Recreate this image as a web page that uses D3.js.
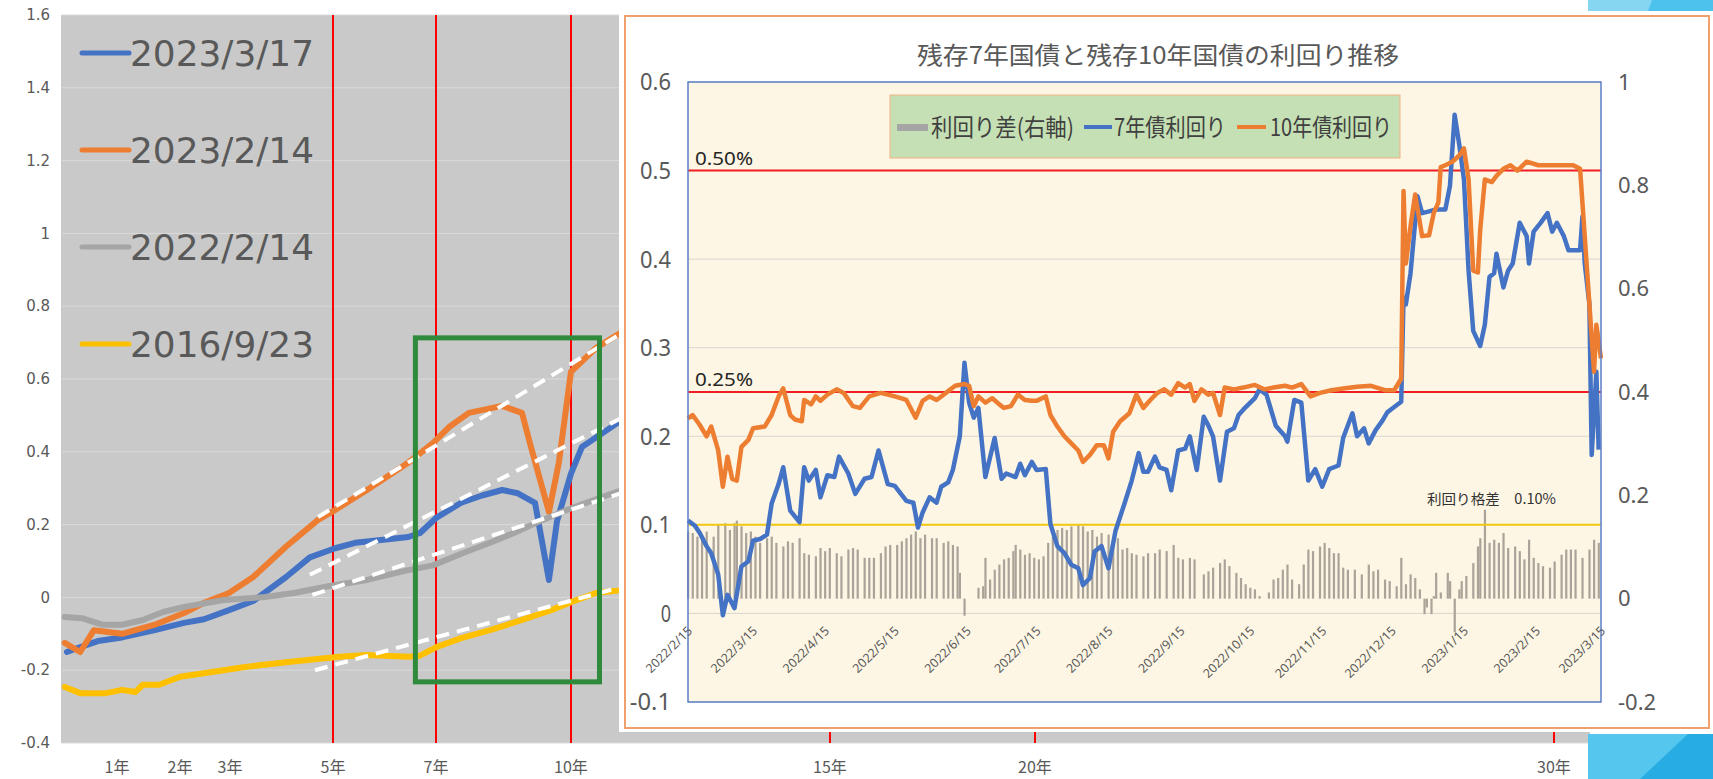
<!DOCTYPE html>
<meta charset="utf-8">
<style>
  body { margin: 0; background: #fff; }
  svg text { font-family: "Noto Sans CJK JP", "Noto Sans", sans-serif; }
</style>
<body>
<script src="https://d3js.org/d3.v7.min.js"></script>
<script>
// ---------- left chart : yield curves (maturity in years, yield %) ----------
var curveNames  = ["2023/3/17", "2023/2/14", "2022/2/14", "2016/9/23"];
var curveColors = ["#4472c4", "#ed7d31", "#a5a5a5", "#ffc000"];
var curve20230317 = [[0.09,-0.15],[0.36,-0.135],[0.65,-0.12],[1.08,-0.11],[1.6,-0.09],[2.08,-0.07],[2.48,-0.06],[2.98,-0.035],[3.45,-0.01],[4.09,0.056],[4.55,0.11],[5.04,0.135],[5.43,0.15],[6.07,0.16],[6.46,0.166],[6.69,0.177],[7.02,0.22],[7.56,0.26],[8.02,0.28],[8.47,0.295],[8.82,0.286],[9.2,0.26],[9.51,0.048],[9.69,0.21],[10,0.34],[10.21,0.413],[10.98,0.487],[11.6,0.53]];
var curve20230214 = [[0.05,-0.125],[0.33,-0.15],[0.58,-0.09],[1.08,-0.10],[1.6,-0.075],[2.08,-0.043],[2.48,-0.015],[2.98,0.012],[3.45,0.056],[4.09,0.14],[4.71,0.213],[5.04,0.24],[5.66,0.295],[6.46,0.37],[6.94,0.424],[7.29,0.468],[7.73,0.507],[8.47,0.526],[8.91,0.507],[9.11,0.413],[9.51,0.235],[9.73,0.37],[10,0.62],[10.48,0.685],[10.95,0.726],[11.6,0.8]];
var curve20220214 = [[0.05,-0.054],[0.36,-0.057],[0.73,-0.075],[1.08,-0.075],[1.41,-0.062],[1.73,-0.04],[2.08,-0.026],[2.88,-0.007],[3.68,0.001],[4.24,0.012],[4.88,0.03],[5.66,0.048],[6.46,0.075],[6.94,0.088],[7.56,0.12],[8.2,0.15],[8.73,0.177],[9.38,0.213],[10,0.245],[10.98,0.295],[11.6,0.33]];
var curve20160923 = [[0.05,-0.246],[0.33,-0.263],[0.8,-0.263],[1.08,-0.254],[1.29,-0.26],[1.41,-0.24],[1.67,-0.24],[2.0,-0.218],[2.64,-0.205],[3.29,-0.191],[4.09,-0.178],[4.55,-0.171],[5.12,-0.163],[5.66,-0.158],[6.46,-0.163],[6.69,-0.16],[7.02,-0.136],[7.56,-0.112],[8.2,-0.09],[8.91,-0.062],[9.56,-0.035],[10,-0.013],[10.48,0.012],[10.98,0.02],[11.6,0.035]];
var curves = [curve20230317, curve20230214, curve20220214, curve20160923];

var maturityTicks  = [1, 2, 3, 5, 7, 10, 15, 20, 30];
var maturityLabels = ["1年", "2年", "3年", "5年", "7年", "10年", "15年", "20年", "30年"];
var markedMaturities = [5, 7, 10, 15, 20, 30];   // red vertical lines
var leftYTicks = [1.6, 1.4, 1.2, 1, 0.8, 0.6, 0.4, 0.2, 0, -0.2, -0.4];

// white dashed guide lines [[years, yield], [years, yield]]
var guideLines = [
  [[4.71, 0.221], [10.98, 0.726]],
  [[4.55, 0.062], [10.98, 0.493]],
  [[4.6, 0.007], [10.98, 0.287]],
  [[4.65, -0.2], [10.98, 0.029]]
];
// green highlight box: [fromYear, toYear, lowYield, highYield]
var highlightBox = [6.6, 10.55, -0.232, 0.713];

// ---------- inset chart : 7y / 10y JGB yields ----------
var inTitle = "残存7年国債と残存10年国債の利回り推移";
var dates10y = ["2022-02-15","2022-02-17","2022-02-20","2022-02-23","2022-02-25","2022-02-28","2022-03-02","2022-03-04","2022-03-06","2022-03-08","2022-03-10","2022-03-13","2022-03-15","2022-03-20","2022-03-23","2022-03-26","2022-03-28","2022-03-31","2022-04-02","2022-04-05","2022-04-06","2022-04-09","2022-04-11","2022-04-13","2022-04-16","2022-04-20","2022-04-23","2022-04-27","2022-04-30","2022-05-04","2022-05-09","2022-05-15","2022-05-20","2022-05-24","2022-05-27","2022-05-30","2022-06-02","2022-06-04","2022-06-07","2022-06-10","2022-06-14","2022-06-16","2022-06-18","2022-06-20","2022-06-23","2022-06-26","2022-06-29","2022-07-01","2022-07-04","2022-07-07","2022-07-10","2022-07-13","2022-07-15","2022-07-19","2022-07-21","2022-07-24","2022-07-27","2022-07-30","2022-08-02","2022-08-04","2022-08-07","2022-08-10","2022-08-13","2022-08-15","2022-08-17","2022-08-20","2022-08-24","2022-08-27","2022-08-30","2022-09-02","2022-09-05","2022-09-08","2022-09-11","2022-09-14","2022-09-17","2022-09-19","2022-09-21","2022-09-24","2022-09-27","2022-09-29","2022-10-02","2022-10-04","2022-10-08","2022-10-12","2022-10-17","2022-10-21","2022-10-25","2022-10-30","2022-11-02","2022-11-06","2022-11-10","2022-11-14","2022-11-19","2022-11-24","2022-11-30","2022-12-06","2022-12-12","2022-12-16","2022-12-19","2022-12-20","2022-12-21","2022-12-23","2022-12-25","2022-12-28","2022-12-31","2023-01-02","2023-01-04","2023-01-05","2023-01-07","2023-01-10","2023-01-13","2023-01-15","2023-01-17","2023-01-19","2023-01-21","2023-01-22","2023-01-24","2023-01-27","2023-01-29","2023-02-01","2023-02-04","2023-02-07","2023-02-11","2023-02-16","2023-02-21","2023-02-27","2023-03-03","2023-03-06","2023-03-08","2023-03-11","2023-03-12","2023-03-13","2023-03-15"];
var yield10y = [0.22,0.224,0.213,0.2,0.211,0.184,0.143,0.177,0.152,0.15,0.188,0.196,0.209,0.211,0.224,0.245,0.254,0.224,0.219,0.217,0.241,0.236,0.245,0.24,0.247,0.253,0.249,0.234,0.232,0.245,0.249,0.245,0.241,0.221,0.24,0.245,0.241,0.245,0.251,0.257,0.259,0.257,0.234,0.245,0.238,0.243,0.236,0.232,0.234,0.247,0.241,0.24,0.24,0.245,0.224,0.211,0.2,0.192,0.184,0.171,0.179,0.19,0.19,0.175,0.205,0.217,0.226,0.247,0.232,0.241,0.249,0.253,0.247,0.26,0.255,0.259,0.24,0.253,0.247,0.249,0.224,0.255,0.253,0.255,0.258,0.253,0.255,0.257,0.255,0.259,0.245,0.249,0.252,0.254,0.256,0.257,0.252,0.252,0.265,0.477,0.395,0.437,0.473,0.426,0.427,0.452,0.464,0.504,0.506,0.51,0.517,0.525,0.49,0.387,0.385,0.433,0.49,0.487,0.494,0.502,0.506,0.5,0.51,0.506,0.506,0.506,0.506,0.502,0.426,0.311,0.273,0.326,0.288];

var dates7y = ["2022-02-15","2022-02-18","2022-02-20","2022-02-23","2022-02-25","2022-02-28","2022-03-02","2022-03-04","2022-03-07","2022-03-10","2022-03-13","2022-03-15","2022-03-18","2022-03-21","2022-03-23","2022-03-26","2022-03-28","2022-03-31","2022-04-04","2022-04-06","2022-04-08","2022-04-11","2022-04-13","2022-04-16","2022-04-19","2022-04-21","2022-04-25","2022-04-28","2022-05-02","2022-05-05","2022-05-08","2022-05-12","2022-05-15","2022-05-20","2022-05-23","2022-05-25","2022-05-27","2022-05-30","2022-06-02","2022-06-04","2022-06-07","2022-06-09","2022-06-12","2022-06-14","2022-06-16","2022-06-18","2022-06-20","2022-06-23","2022-06-27","2022-06-30","2022-07-02","2022-07-06","2022-07-08","2022-07-10","2022-07-13","2022-07-15","2022-07-19","2022-07-21","2022-07-24","2022-07-27","2022-07-30","2022-08-02","2022-08-04","2022-08-07","2022-08-09","2022-08-12","2022-08-15","2022-08-18","2022-08-22","2022-08-25","2022-08-28","2022-08-30","2022-09-01","2022-09-04","2022-09-06","2022-09-09","2022-09-11","2022-09-14","2022-09-17","2022-09-19","2022-09-22","2022-09-25","2022-09-27","2022-09-29","2022-10-02","2022-10-05","2022-10-08","2022-10-10","2022-10-12","2022-10-17","2022-10-19","2022-10-22","2022-10-26","2022-10-30","2022-10-31","2022-11-03","2022-11-06","2022-11-09","2022-11-12","2022-11-15","2022-11-18","2022-11-22","2022-11-24","2022-11-28","2022-11-30","2022-12-03","2022-12-05","2022-12-08","2022-12-11","2022-12-13","2022-12-15","2022-12-19","2022-12-20","2022-12-21","2022-12-23","2022-12-26","2022-12-28","2022-12-31","2023-01-03","2023-01-05","2023-01-07","2023-01-09","2023-01-11","2023-01-13","2023-01-15","2023-01-17","2023-01-19","2023-01-22","2023-01-24","2023-01-26","2023-01-28","2023-01-29","2023-02-01","2023-02-03","2023-02-05","2023-02-08","2023-02-11","2023-02-12","2023-02-14","2023-02-17","2023-02-20","2023-02-22","2023-02-24","2023-02-27","2023-03-01","2023-03-04","2023-03-06","2023-03-07","2023-03-08","2023-03-10","2023-03-11","2023-03-13","2023-03-14"];
var yield7y = [0.105,0.099,0.091,0.076,0.068,0.044,-0.002,0.021,0.006,0.053,0.059,0.082,0.084,0.089,0.124,0.146,0.165,0.116,0.103,0.165,0.15,0.162,0.131,0.156,0.154,0.177,0.158,0.135,0.152,0.154,0.184,0.146,0.144,0.127,0.125,0.097,0.114,0.131,0.125,0.143,0.148,0.162,0.2,0.283,0.238,0.221,0.232,0.154,0.198,0.152,0.158,0.154,0.169,0.156,0.171,0.162,0.163,0.101,0.076,0.068,0.055,0.051,0.032,0.04,0.07,0.076,0.051,0.093,0.125,0.15,0.181,0.16,0.16,0.177,0.165,0.162,0.139,0.184,0.186,0.2,0.162,0.222,0.212,0.2,0.15,0.205,0.209,0.224,0.23,0.243,0.253,0.247,0.212,0.2,0.194,0.241,0.238,0.15,0.163,0.143,0.163,0.167,0.198,0.226,0.2,0.209,0.192,0.207,0.218,0.227,0.231,0.239,0.357,0.349,0.384,0.471,0.452,0.454,0.456,0.456,0.456,0.483,0.563,0.529,0.49,0.387,0.319,0.302,0.326,0.38,0.384,0.406,0.368,0.387,0.395,0.441,0.426,0.395,0.431,0.441,0.452,0.431,0.441,0.426,0.41,0.41,0.41,0.448,0.395,0.349,0.179,0.273,0.185];

var spreadDates = ["2022-02-15","2022-02-17","2022-02-19","2022-02-21","2022-02-23","2022-02-26","2022-02-28","2022-03-03","2022-03-05","2022-03-07","2022-03-08","2022-03-10","2022-03-12","2022-03-14","2022-03-16","2022-03-18","2022-03-21","2022-03-23","2022-03-25","2022-03-28","2022-03-30","2022-04-01","2022-04-04","2022-04-06","2022-04-08","2022-04-11","2022-04-13","2022-04-15","2022-04-17","2022-04-20","2022-04-22","2022-04-25","2022-04-27","2022-04-29","2022-05-02","2022-05-04","2022-05-06","2022-05-09","2022-05-11","2022-05-13","2022-05-16","2022-05-18","2022-05-20","2022-05-22","2022-05-24","2022-05-26","2022-05-28","2022-05-31","2022-06-02","2022-06-05","2022-06-07","2022-06-09","2022-06-11","2022-06-12","2022-06-14","2022-06-20","2022-06-22","2022-06-23","2022-06-25","2022-06-27","2022-06-29","2022-07-01","2022-07-03","2022-07-05","2022-07-06","2022-07-08","2022-07-10","2022-07-12","2022-07-14","2022-07-16","2022-07-18","2022-07-20","2022-07-22","2022-07-24","2022-07-26","2022-07-28","2022-07-30","2022-08-02","2022-08-04","2022-08-06","2022-08-08","2022-08-10","2022-08-12","2022-08-15","2022-08-17","2022-08-19","2022-08-21","2022-08-23","2022-08-25","2022-08-27","2022-08-30","2022-09-01","2022-09-04","2022-09-06","2022-09-09","2022-09-12","2022-09-14","2022-09-16","2022-09-19","2022-09-21","2022-09-25","2022-09-27","2022-09-29","2022-10-02","2022-10-04","2022-10-06","2022-10-09","2022-10-11","2022-10-13","2022-10-15","2022-10-17","2022-10-19","2022-10-23","2022-10-25","2022-10-27","2022-10-29","2022-10-31","2022-11-02","2022-11-05","2022-11-07","2022-11-09","2022-11-11","2022-11-14","2022-11-16","2022-11-18","2022-11-20","2022-11-22","2022-11-24","2022-11-26","2022-11-29","2022-12-02","2022-12-05","2022-12-07","2022-12-09","2022-12-12","2022-12-14","2022-12-17","2022-12-19","2022-12-21","2022-12-23","2022-12-25","2022-12-27","2022-12-29","2022-12-30","2023-01-01","2023-01-02","2023-01-03","2023-01-05","2023-01-08","2023-01-09","2023-01-11","2023-01-13","2023-01-14","2023-01-16","2023-01-19","2023-01-21","2023-01-22","2023-01-24","2023-01-26","2023-01-28","2023-01-30","2023-02-01","2023-02-03","2023-02-06","2023-02-08","2023-02-10","2023-02-12","2023-02-14","2023-02-16","2023-02-18","2023-02-21","2023-02-23","2023-02-26","2023-02-28","2023-03-02","2023-03-04","2023-03-07","2023-03-10","2023-03-12","2023-03-14"];
var spreadValues = [0.13,0.127,0.12,0.114,0.13,0.12,0.143,0.146,0.133,0.146,0.151,0.14,0.127,0.13,0.12,0.108,0.117,0.12,0.108,0.101,0.111,0.108,0.117,0.088,0.085,0.082,0.098,0.092,0.098,0.088,0.082,0.095,0.098,0.095,0.079,0.079,0.079,0.088,0.101,0.104,0.104,0.111,0.117,0.124,0.13,0.117,0.124,0.117,0.117,0.108,0.111,0.104,0.101,0.05,-0.033,0.021,0.024,0.079,0.037,0.056,0.066,0.076,0.079,0.092,0.104,0.095,0.085,0.088,0.079,0.076,0.082,0.108,0.12,0.133,0.137,0.133,0.14,0.143,0.14,0.13,0.133,0.12,0.127,0.124,0.114,0.117,0.095,0.098,0.088,0.085,0.082,0.088,0.088,0.095,0.092,0.104,0.079,0.076,0.079,0.076,0.047,0.053,0.06,0.069,0.076,0.063,0.05,0.04,0.028,0.021,0.018,0.005,0.012,0.037,0.04,0.056,0.066,0.037,0.028,0.066,0.095,0.092,0.101,0.108,0.098,0.088,0.088,0.06,0.056,0.056,0.047,0.066,0.053,0.056,0.037,0.034,0.024,0.079,0.028,0.047,0.04,0.018,-0.03,-0.017,-0.03,0.005,0.05,0.012,0.05,0.034,-0.065,0.018,0.034,0.044,0.069,0.101,0.117,0.172,0.108,0.114,0.108,0.127,0.098,0.101,0.092,0.076,0.114,0.079,0.069,0.063,0.06,0.072,0.085,0.095,0.095,0.095,0.079,0.095,0.114,0.108];

var inSeriesNames = ["利回り差(右軸)", "7年債利回り", "10年債利回り"];
var inLeftTicks  = [0.6, 0.5, 0.4, 0.3, 0.2, 0.1, 0, -0.1];
var inRightTicks = [1, 0.8, 0.6, 0.4, 0.2, 0, -0.2];
var inDateTicks = ["2022-02-15","2022-03-15","2022-04-15","2022-05-15","2022-06-15","2022-07-15","2022-08-15","2022-09-15","2022-10-15","2022-11-15","2022-12-15","2023-01-15","2023-02-15","2023-03-15"];
var refLevels = [0.5, 0.25];          // red reference lines (left axis)
var refLabels = ["0.50%", "0.25%"];
var spreadRef = 0.1;                  // yellow line (left axis)
var spreadRefLabel = "利回り格差　0.10%";

// ================= drawing =================
var W = 1713, H = 779;
var svg = d3.select("body").append("svg").attr("width", W).attr("height", H);
var parse = d3.timeParse("%Y-%m-%d");

// ---- left chart scales
var xL = d3.scaleLinear()
    .domain([0, 1, 2, 3, 5, 7, 10, 15, 20, 30, 30.7])
    .range([62, 117, 180, 230, 333, 436, 571, 830, 1035, 1554, 1590]);
var yL = d3.scaleLinear().domain([-0.4, 1.6]).range([743, 15]);

var left = svg.append("g");
left.append("rect")
    .attr("x", xL(0) - 1).attr("y", yL(1.6))
    .attr("width", xL(30.7) - xL(0) + 1).attr("height", yL(-0.4) - yL(1.6))
    .attr("fill", "#c9c9c9");

left.selectAll(".grid").data(leftYTicks).enter().append("line")
    .attr("x1", xL(0)).attr("x2", xL(30.7))
    .attr("y1", function(d) { return yL(d); }).attr("y2", function(d) { return yL(d); })
    .attr("stroke", "#dadada").attr("stroke-width", 1);

left.selectAll(".ylab").data(leftYTicks).enter().append("text")
    .attr("x", 50).attr("y", function(d) { return yL(d); })
    .attr("dy", "0.35em").attr("text-anchor", "end")
    .style("font-family", "'DejaVu Sans', sans-serif").style("font-size", "15px")
    .attr("fill", "#595959")
    .text(function(d) { return String(d); });

left.selectAll(".xlab").data(maturityTicks).enter().append("text")
    .attr("x", function(d) { return xL(d); }).attr("y", 773)
    .attr("text-anchor", "middle").style("font-size", "16px").attr("fill", "#595959")
    .text(function(d, i) { return maturityLabels[i]; });

left.selectAll(".mark").data(markedMaturities).enter().append("line")
    .attr("x1", function(d) { return xL(d); }).attr("x2", function(d) { return xL(d); })
    .attr("y1", yL(1.6)).attr("y2", yL(-0.4))
    .attr("stroke", "#ff0000").attr("stroke-width", 2);

var lineL = d3.line().x(function(d) { return xL(d[0]); }).y(function(d) { return yL(d[1]); });
left.selectAll(".curve").data(curves).enter().append("path")
    .attr("d", lineL).attr("fill", "none")
    .attr("stroke", function(d, i) { return curveColors[i]; })
    .attr("stroke-width", 6).attr("stroke-linejoin", "round").attr("stroke-linecap", "round");

left.selectAll(".guide").data(guideLines).enter().append("path")
    .attr("d", lineL).attr("fill", "none")
    .attr("stroke", "#fff").attr("stroke-width", 4).attr("stroke-dasharray", "13,8");

left.append("rect")
    .attr("x", xL(highlightBox[0])).attr("y", yL(highlightBox[3]))
    .attr("width", xL(highlightBox[1]) - xL(highlightBox[0]))
    .attr("height", yL(highlightBox[2]) - yL(highlightBox[3]))
    .attr("fill", "none").attr("stroke", "#2f8a3b").attr("stroke-width", 5);

// legend
var leg = left.selectAll(".leg").data(curveNames).enter().append("g")
    .attr("transform", function(d, i) { return "translate(82," + (53 + i * 97) + ")"; });
leg.append("line").attr("x1", 0).attr("x2", 47)
    .attr("stroke", function(d, i) { return curveColors[i]; })
    .attr("stroke-width", 5).attr("stroke-linecap", "round");
leg.append("text").attr("x", 48).attr("dy", "0.36em")
    .style("font-family", "'DejaVu Sans', sans-serif").style("font-size", "35px")
    .attr("fill", "#595959")
    .attr("textLength", 184).attr("lengthAdjust", "spacingAndGlyphs")
    .text(function(d) { return d; });

// ---- slide decorations (right edge)
svg.append("rect").attr("x", 1588).attr("y", 0).attr("width", 125).attr("height", 11).attr("fill", "#86d6f1");
svg.append("polygon").attr("points", "1652,0 1713,0 1713,11 1648,11").attr("fill", "#4cc2ec");
svg.append("rect").attr("x", 1588).attr("y", 734).attr("width", 125).attr("height", 45).attr("fill", "#27ace3");
svg.append("polygon").attr("points", "1588,734 1688,734 1640,779 1588,779").attr("fill", "#55c6ee");

// ---- inset chart
var inset = svg.append("g");
inset.append("rect").attr("x", 619).attr("y", 11).attr("width", 1094).attr("height", 721).attr("fill", "#fff");
inset.append("rect").attr("x", 625).attr("y", 16).attr("width", 1084).attr("height", 712)
    .attr("fill", "#fff").attr("stroke", "#efa06d").attr("stroke-width", 2);

var xI = d3.scaleTime().domain([parse("2022-02-15"), parse("2023-03-15")]).range([688, 1601]);
var yI = d3.scaleLinear().domain([-0.1, 0.6]).range([702, 82]);
var yR = d3.scaleLinear().domain([-0.2, 1]).range([702, 82]);

inset.append("rect").attr("x", 688).attr("y", 82).attr("width", 913).attr("height", 620)
    .attr("fill", "#fdf6e4");

inset.selectAll(".igrid").data(inLeftTicks).enter().append("line")
    .attr("x1", 688).attr("x2", 1601)
    .attr("y1", function(d) { return yI(d); }).attr("y2", function(d) { return yI(d); })
    .attr("stroke", "#d9d6cf").attr("stroke-width", 1);

inset.append("text").attr("x", 1158).attr("y", 64).attr("text-anchor", "middle")
    .style("font-size", "24px").attr("fill", "#595959")
    .attr("textLength", 482).attr("lengthAdjust", "spacingAndGlyphs").text(inTitle);

inset.selectAll(".ilab").data(inLeftTicks).enter().append("text")
    .attr("x", 671).attr("y", function(d) { return yI(d); }).attr("dy", "0.35em")
    .attr("text-anchor", "end").style("font-family", "'Noto Sans', sans-serif").style("font-size", "24px")
    .attr("fill", "#595959")
    .attr("textLength", function(d) { return String(d).length * 10.3; })
    .attr("lengthAdjust", "spacingAndGlyphs")
    .text(function(d) { return String(d); });

inset.selectAll(".rlab").data(inRightTicks).enter().append("text")
    .attr("x", 1618).attr("y", function(d) { return yR(d); }).attr("dy", "0.35em")
    .style("font-family", "'Noto Sans', sans-serif").style("font-size", "22px")
    .attr("fill", "#595959").text(function(d) { return String(d); });

// spread bars (right axis)
var spread = spreadDates.map(function(d, i) { return { date: parse(d), v: spreadValues[i] }; });
inset.selectAll(".bar").data(spread).enter().append("rect")
    .attr("x", function(d) { return xI(d.date) - 1; })
    .attr("y", function(d) { return yR(Math.max(0, d.v)); })
    .attr("width", 2.2)
    .attr("height", function(d) { return Math.abs(yR(d.v) - yR(0)); })
    .attr("fill", "#aaa399");

// reference lines
inset.selectAll(".ref").data(refLevels).enter().append("line")
    .attr("x1", 688).attr("x2", 1601)
    .attr("y1", function(d) { return yI(d); }).attr("y2", function(d) { return yI(d); })
    .attr("stroke", "#f01e23").attr("stroke-width", 2);
inset.selectAll(".reflab").data(refLevels).enter().append("text")
    .attr("x", 695).attr("y", function(d) { return yI(d) - 6; })
    .style("font-family", "'Noto Sans', sans-serif").style("font-size", "18px")
    .attr("fill", "#262626").attr("textLength", 58).attr("lengthAdjust", "spacingAndGlyphs")
    .text(function(d, i) { return refLabels[i]; });
inset.append("line").attr("x1", 688).attr("x2", 1601)
    .attr("y1", yI(spreadRef)).attr("y2", yI(spreadRef))
    .attr("stroke", "#f2c811").attr("stroke-width", 2);
inset.append("text").attr("x", 1427).attr("y", 504)
    .style("font-size", "14px").attr("fill", "#333")
    .attr("textLength", 129).attr("lengthAdjust", "spacingAndGlyphs").text(spreadRefLabel);

// yield lines
var s7 = dates7y.map(function(d, i) { return { date: parse(d), v: yield7y[i] }; });
var s10 = dates10y.map(function(d, i) { return { date: parse(d), v: yield10y[i] }; });
var lineI = d3.line().x(function(d) { return xI(d.date); }).y(function(d) { return yI(d.v); });
inset.append("path").datum(s7).attr("d", lineI).attr("fill", "none")
    .attr("stroke", "#4472c4").attr("stroke-width", 4.5).attr("stroke-linejoin", "round");
inset.append("path").datum(s10).attr("d", lineI).attr("fill", "none")
    .attr("stroke", "#ed7d31").attr("stroke-width", 4.5).attr("stroke-linejoin", "round");

// plot border
inset.append("rect").attr("x", 688).attr("y", 82).attr("width", 913).attr("height", 620)
    .attr("fill", "none").attr("stroke", "#5b7ec9").attr("stroke-width", 1.5);

// date axis
var dateAxis = inset.append("g").attr("transform", "translate(0,630)")
    .call(d3.axisBottom(xI).tickValues(inDateTicks.map(parse))
        .tickFormat(d3.timeFormat("%Y/%-m/%-d")).tickSize(0).tickPadding(0));
dateAxis.select(".domain").remove();
dateAxis.selectAll("text")
    .attr("transform", "rotate(-45)").attr("text-anchor", "end")
    .attr("x", 2).attr("y", 0).attr("dy", "0.35em")
    .style("font-family", "'Noto Sans', sans-serif").style("font-size", "12.5px")
    .attr("fill", "#595959");

// inset legend
inset.append("rect").attr("x", 890).attr("y", 95).attr("width", 510).attr("height", 63)
    .attr("fill", "#c5e0b4").attr("stroke", "#f4b183").attr("stroke-width", 1);
inset.append("rect").attr("x", 897).attr("y", 124).attr("width", 31).attr("height", 7).attr("fill", "#a5a5a5");
inset.append("line").attr("x1", 1084).attr("x2", 1112).attr("y1", 127).attr("y2", 127)
    .attr("stroke", "#4472c4").attr("stroke-width", 4);
inset.append("line").attr("x1", 1237).attr("x2", 1266).attr("y1", 127).attr("y2", 127)
    .attr("stroke", "#ed7d31").attr("stroke-width", 4);
var legX = [931, 1114, 1270], legW = [143, 112, 122];
inset.selectAll(".ilegtext").data(inSeriesNames).enter().append("text")
    .attr("x", function(d, i) { return legX[i]; }).attr("y", 136)
    .style("font-size", "24px").attr("fill", "#404040")
    .attr("textLength", function(d, i) { return legW[i]; }).attr("lengthAdjust", "spacingAndGlyphs")
    .text(function(d) { return d; });
</script>
</body>
